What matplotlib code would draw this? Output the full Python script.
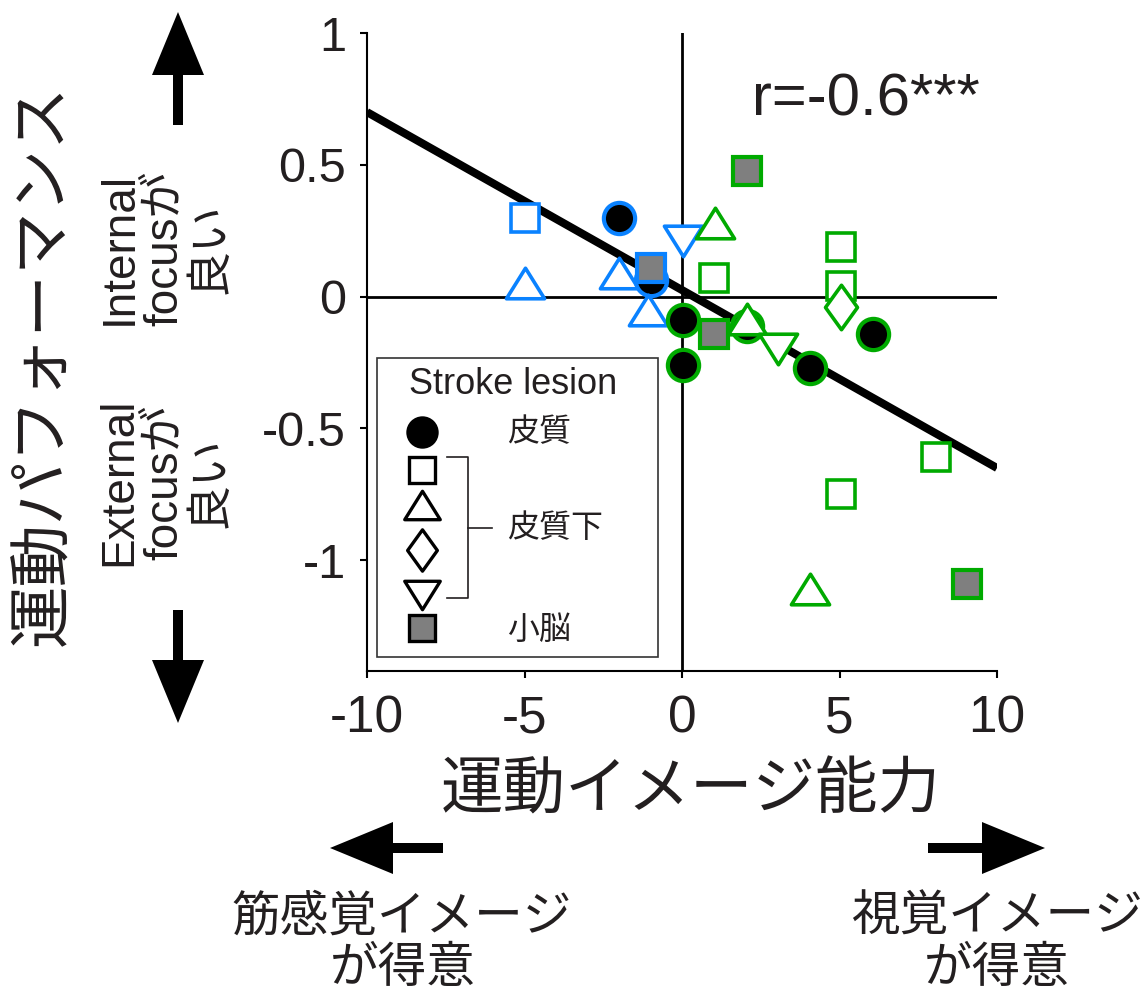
import numpy as np
import matplotlib
matplotlib.use("Agg")
import matplotlib.pyplot as plt
import matplotlib.transforms as mtransforms
from matplotlib.patches import FancyArrow, Rectangle
from matplotlib.lines import Line2D
from matplotlib.path import Path
from matplotlib.markers import MarkerStyle

plt.rcParams['font.family'] = ['Liberation Sans', 'Noto Sans CJK JP']

# ---------------- data ----------------
imagery = [-5.0, -5.0, -2.0, -2.0, -0.98, -1.0, -1.07, 0.03,
           0.03, 0.03, 1.02, 2.05, 2.05, 3.05, 4.05, 1.05, 1.02, 2.05,
           5.05, 5.05, 5.05, 6.05, 8.05, 5.05, 4.05, 9.05]
performance = [0.30, 0.05, 0.30, 0.09, 0.065, 0.11, -0.05, 0.21,
               -0.09, -0.26, -0.14, -0.11, -0.085, -0.20, -0.27, 0.28, 0.07, 0.475,
               0.19, 0.04, -0.04, -0.14, -0.61, -0.75, -1.11, -1.09]
lesion = ['sub_sq', 'sub_tri', 'cortex', 'sub_tri', 'cortex', 'cerebellum', 'sub_tri', 'sub_inv',
          'cortex', 'cortex', 'cerebellum', 'cortex', 'sub_tri', 'sub_inv', 'cortex', 'sub_tri', 'sub_sq', 'cerebellum',
          'sub_sq', 'sub_sq', 'sub_dia', 'cortex', 'sub_sq', 'sub_sq', 'sub_tri', 'cerebellum']
group = ['blue'] * 8 + ['green'] * 18

fit_x = [-10, 10]
fit_y = [0.70, -0.65]

xticks = [-10, -5, 0, 5, 10]
xtick_labels = ['-10', '-5', '0', '5', '10']
yticks = [-1, -0.5, 0, 0.5, 1]
ytick_labels = ['-1', '-0.5', '0', '0.5', '1']

legend_labels = ['皮質', '皮質下', '小脳']

# ---------------- style ----------------
W, H = 1146, 992
fig = plt.figure(figsize=(W / 100, H / 100), dpi=100)
pix = mtransforms.Affine2D().scale(1 / W, -1 / H).translate(0, 1) + fig.transFigure

ax = fig.add_axes([367 / W, 1 - 671 / H, 630 / W, 638 / H])
ax.set_xlim(-10, 10)
ax.set_ylim(-1.42, 1.0)

colors = {'blue': '#0A82FF', 'green': '#00AA00'}
gray = '#7F7F7F'

tri_up = Path([(0, 0.8), (-1, -0.8), (1, -0.8), (0, 0.8)], closed=True)
tri_dn = Path([(0, -0.8), (-1, 0.8), (1, 0.8), (0, -0.8)], closed=True)
dia = Path([(0, 1), (0.72, 0), (0, -1), (-0.72, 0), (0, 1)], closed=True)

mk = {
    'cortex': dict(marker='o', ms=22.5, mew=3.0, face='black'),
    'sub_sq': dict(marker='s', ms=20, mew=2.6, face='white'),
    'sub_tri': dict(marker=MarkerStyle(tri_up, joinstyle='miter'), ms=27.5, mew=2.6, face='white'),
    'sub_dia': dict(marker=MarkerStyle(dia, joinstyle='miter'), ms=32, mew=2.6, face='white'),
    'sub_inv': dict(marker=MarkerStyle(tri_dn, joinstyle='miter'), ms=27.5, mew=2.6, face='white'),
    'cerebellum': dict(marker='s', ms=20, mew=3.0, face=gray),
}

# axis lines and fit
ax.axhline(0, color='black', lw=2, zorder=1)
ax.axvline(0, color='black', lw=2, zorder=1)
ax.plot(fit_x, fit_y, color='black', lw=5.8, solid_capstyle='butt', zorder=2)

for i, (x, y, l, g) in enumerate(zip(imagery, performance, lesion, group)):
    m = mk[l]
    ax.plot([x], [y], linestyle='none', marker=m['marker'], ms=m['ms'], mew=m['mew'],
            mec=colors[g], mfc=m['face'], zorder=3 + i * 0.01, clip_on=False)

for s in ['top', 'right']:
    ax.spines[s].set_visible(False)
for s in ['left', 'bottom']:
    ax.spines[s].set_linewidth(1.5)
ax.set_xticks(xticks)
ax.set_xticklabels(xtick_labels)
ax.set_yticks(yticks)
ax.set_yticklabels(ytick_labels)
ax.tick_params(axis='both', direction='out', length=5, width=1.5, labelsize=35,
               labelcolor='#231F20')
ax.tick_params(axis='x', pad=12, labelsize=37)
ax.tick_params(axis='y', pad=10)

txtc = '#231F20'
# r text
fig.text(752, 115, 'r=-0.6***', transform=pix, ha='left', va='baseline', fontsize=43, color=txtc)

# axis labels
fig.text(691, 790, '運動イメージ能力', transform=pix, ha='center', va='center', fontsize=45,
         color=txtc, family=['Noto Sans CJK JP'])
fig.text(43, 365, '運動パフォーマンス', transform=pix, ha='center', va='center', fontsize=45,
         rotation=90, color=txtc, family=['Noto Sans CJK JP'])

# side annotations
fig.text(165, 248, 'Internal\nfocusが\n良い', transform=pix, ha='center', va='center',
         fontsize=33, rotation=90, multialignment='center', linespacing=1.05, color=txtc)
fig.text(165, 482, 'External\nfocusが\n良い', transform=pix, ha='center', va='center',
         fontsize=33, rotation=90, multialignment='center', linespacing=1.05, color=txtc)

fig.text(402, 917, '筋感覚イメージ', transform=pix, ha='center', va='center', fontsize=35,
         color=txtc, family=['Noto Sans CJK JP'])
fig.text(403, 968, 'が得意', transform=pix, ha='center', va='center', fontsize=35,
         color=txtc, family=['Noto Sans CJK JP'])
fig.text(997, 917, '視覚イメージ', transform=pix, ha='center', va='center', fontsize=35,
         color=txtc, family=['Noto Sans CJK JP'])
fig.text(997, 968, 'が得意', transform=pix, ha='center', va='center', fontsize=35,
         color=txtc, family=['Noto Sans CJK JP'])

# arrows
def arrow(x0, y0, x1, y1):
    a = FancyArrow(x0, y0, x1 - x0, y1 - y0, width=10, head_width=52, head_length=63,
                   length_includes_head=True, transform=pix, color='black', lw=0)
    fig.add_artist(a)

arrow(178, 125, 178, 12)
arrow(178, 610, 178, 723)
arrow(443, 848, 330, 848)
arrow(928, 848, 1045, 848)

# legend
fig.add_artist(Rectangle((377, 358), 281, 299, transform=pix, facecolor='white',
                         edgecolor='#333333', lw=1.2, zorder=5))
fig.text(513, 385, 'Stroke lesion', transform=pix, ha='center', va='center', fontsize=26,
         color=txtc, zorder=6)
leg_items = ['cortex', 'sub_sq', 'sub_tri', 'sub_dia', 'sub_inv', 'cerebellum']
leg_y = [432, 470, 505, 550, 595, 628]
for l, yy in zip(leg_items, leg_y):
    m = mk[l]
    fig.add_artist(Line2D([422], [yy], transform=pix, linestyle='none', marker=m['marker'],
                          ms=m['ms'] * 0.93, mew=2.4, mec='black', mfc=m['face'], zorder=6))
fig.add_artist(Line2D([447, 468, 468, 447], [457, 457, 598, 598], transform=pix,
                      color='#231F20', lw=1.2, zorder=6))
fig.add_artist(Line2D([468, 492], [528, 528], transform=pix, color='#231F20', lw=1.2, zorder=6))
for lab, yy in zip(legend_labels, [432, 528, 630]):
    fig.text(507, yy, lab, transform=pix, ha='left', va='center', fontsize=23,
             color=txtc, zorder=6, family=['Noto Sans CJK JP'])

fig.savefig('out.png', dpi=100)
